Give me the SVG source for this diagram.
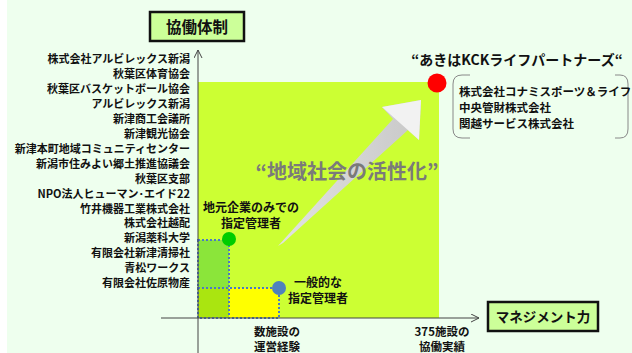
<svg xmlns="http://www.w3.org/2000/svg" width="632" height="353" viewBox="0 0 632 353">
<defs>
<style>
.t{font-family:"Noto Sans CJK JP","Noto Sans",sans-serif;font-weight:bold;fill:#111}
.l{font-size:11px;text-anchor:end}
.c{font-size:12px;text-anchor:middle}
.c2{font-size:11.5px;text-anchor:middle}
.r{font-size:11.5px}
.ax{stroke:#444;stroke-width:1;fill:none}
.box{fill:#CCFF99;stroke:#111;stroke-width:2.5}
.dot{stroke:#4A78C8;stroke-width:2;stroke-dasharray:2 2;fill:none}
</style>
<marker id="ah" markerWidth="10" markerHeight="10" refX="8" refY="4" orient="auto" markerUnits="userSpaceOnUse">
<path d="M0,0 L8,4 L0,8" fill="none" stroke="#444" stroke-width="1"/>
</marker>
<linearGradient id="sg" x1="0" y1="0" x2="1" y2="0">
<stop offset="0" stop-color="#E2E2E2"/>
<stop offset="1" stop-color="#C8C8C8"/>
</linearGradient>
</defs>
<rect x="0" y="0" width="632" height="353" fill="#FFFFFF"/>
<rect x="7" y="0" width="625" height="353" fill="#EEFFEE"/>
<rect x="198" y="82" width="241" height="236" fill="#CCFF33"/>

<g id="regions">
<rect x="198" y="240" width="31" height="48" fill="#8BE53A"/>
<rect x="198" y="288" width="31" height="30" fill="#AAE510"/>
<rect x="229" y="288" width="50" height="30" fill="#FFFF00"/>
<rect class="dot" x="198" y="240" width="31" height="78"/>
<rect class="dot" x="198" y="288" width="81" height="30"/>
</g>

<g id="big-arrow">
<path d="M278,246 L393,119 L382,107 L421,100 L419,140 L408,130 L283,243 Z" fill="url(#sg)"/>
<path d="M382,107 L421,100 L419,140 Z" fill="#F2F2F2"/>
<text class="t" x="347" y="179" font-size="20" text-anchor="middle" style="fill:#7A7A7A">“地域社会の活性化”</text>
</g>

<g id="connectors">
<line class="ax" x1="198" y1="353" x2="198" y2="50" marker-end="url(#ah)"/>
<line class="ax" x1="161" y1="318" x2="479" y2="318" marker-end="url(#ah)"/>
</g>

<g id="node-kyodo">
<rect class="box" x="150" y="12" width="94" height="29"/>
<text class="t" x="197" y="32.5" font-size="15.5" text-anchor="middle">協働体制</text>
</g>

<g id="node-management">
<rect class="box" x="488" y="302" width="110" height="29"/>
<text class="t" x="543" y="322" font-size="13.5" text-anchor="middle">マネジメント力</text>
</g>

<g id="list">
<text class="t l" x="190" y="63.2">株式会社アルビレックス新潟</text>
<text class="t l" x="190" y="78.1">秋葉区体育協会</text>
<text class="t l" x="190" y="93.1">秋葉区バスケットボール協会</text>
<text class="t l" x="190" y="108">アルビレックス新潟</text>
<text class="t l" x="190" y="122.9">新津商工会議所</text>
<text class="t l" x="190" y="137.9">新津観光協会</text>
<text class="t l" x="190" y="152.8">新津本町地域コミュニティセンター</text>
<text class="t l" x="190" y="167.7">新潟市住みよい郷土推進協議会</text>
<text class="t l" x="190" y="182.6">秋葉区支部</text>
<text class="t l" x="190" y="197.6">NPO法人ヒューマン･エイド22</text>
<text class="t l" x="190" y="212.5">竹井機器工業株式会社</text>
<text class="t l" x="190" y="227.4">株式会社越配</text>
<text class="t l" x="190" y="242.4">新潟薬科大学</text>
<text class="t l" x="190" y="257.3">有限会社新津清掃社</text>
<text class="t l" x="190" y="272.2">青松ワークス</text>
<text class="t l" x="190" y="287.2">有限会社佐原物産</text>
</g>

<g id="node-local">
<circle cx="229" cy="239" r="7" fill="#00CC00"/>
<text class="t c" x="251" y="211.5">地元企業のみでの</text>
<text class="t c" x="251" y="227.5">指定管理者</text>
</g>

<g id="node-general">
<circle cx="279" cy="288" r="7" fill="#4F81BD"/>
<text class="t c" x="318" y="287">一般的な</text>
<text class="t c" x="318" y="302.5">指定管理者</text>
</g>

<g id="node-akiha">
<circle cx="437" cy="83" r="9.5" fill="#FF0000"/>
<text class="t" x="517" y="65" font-size="14" text-anchor="middle">“あきはKCKライフパートナーズ“</text>
<path d="M470,75 L462,75 Q453,75 453,84 L453,129 Q453,138 462,138 L470,138" fill="none" stroke="#888" stroke-width="1"/>
<path d="M615,75 L620,75 Q628,75 628,84 L628,129 Q628,138 620,138 L615,138" fill="none" stroke="#888" stroke-width="1"/>
<text class="t r" x="459" y="95.5">株式会社コナミスポーツ＆ライフ</text>
<text class="t r" x="459" y="112">中央管財株式会社</text>
<text class="t r" x="459" y="127.5">関越サービス株式会社</text>
</g>

<g id="axis-labels">
<text class="t c2" x="277" y="335.5">数施設の</text>
<text class="t c2" x="277" y="351">運営経験</text>
<text class="t c2" x="442" y="335.5">375施設の</text>
<text class="t c2" x="442" y="351">協働実績</text>
</g>
</svg>
